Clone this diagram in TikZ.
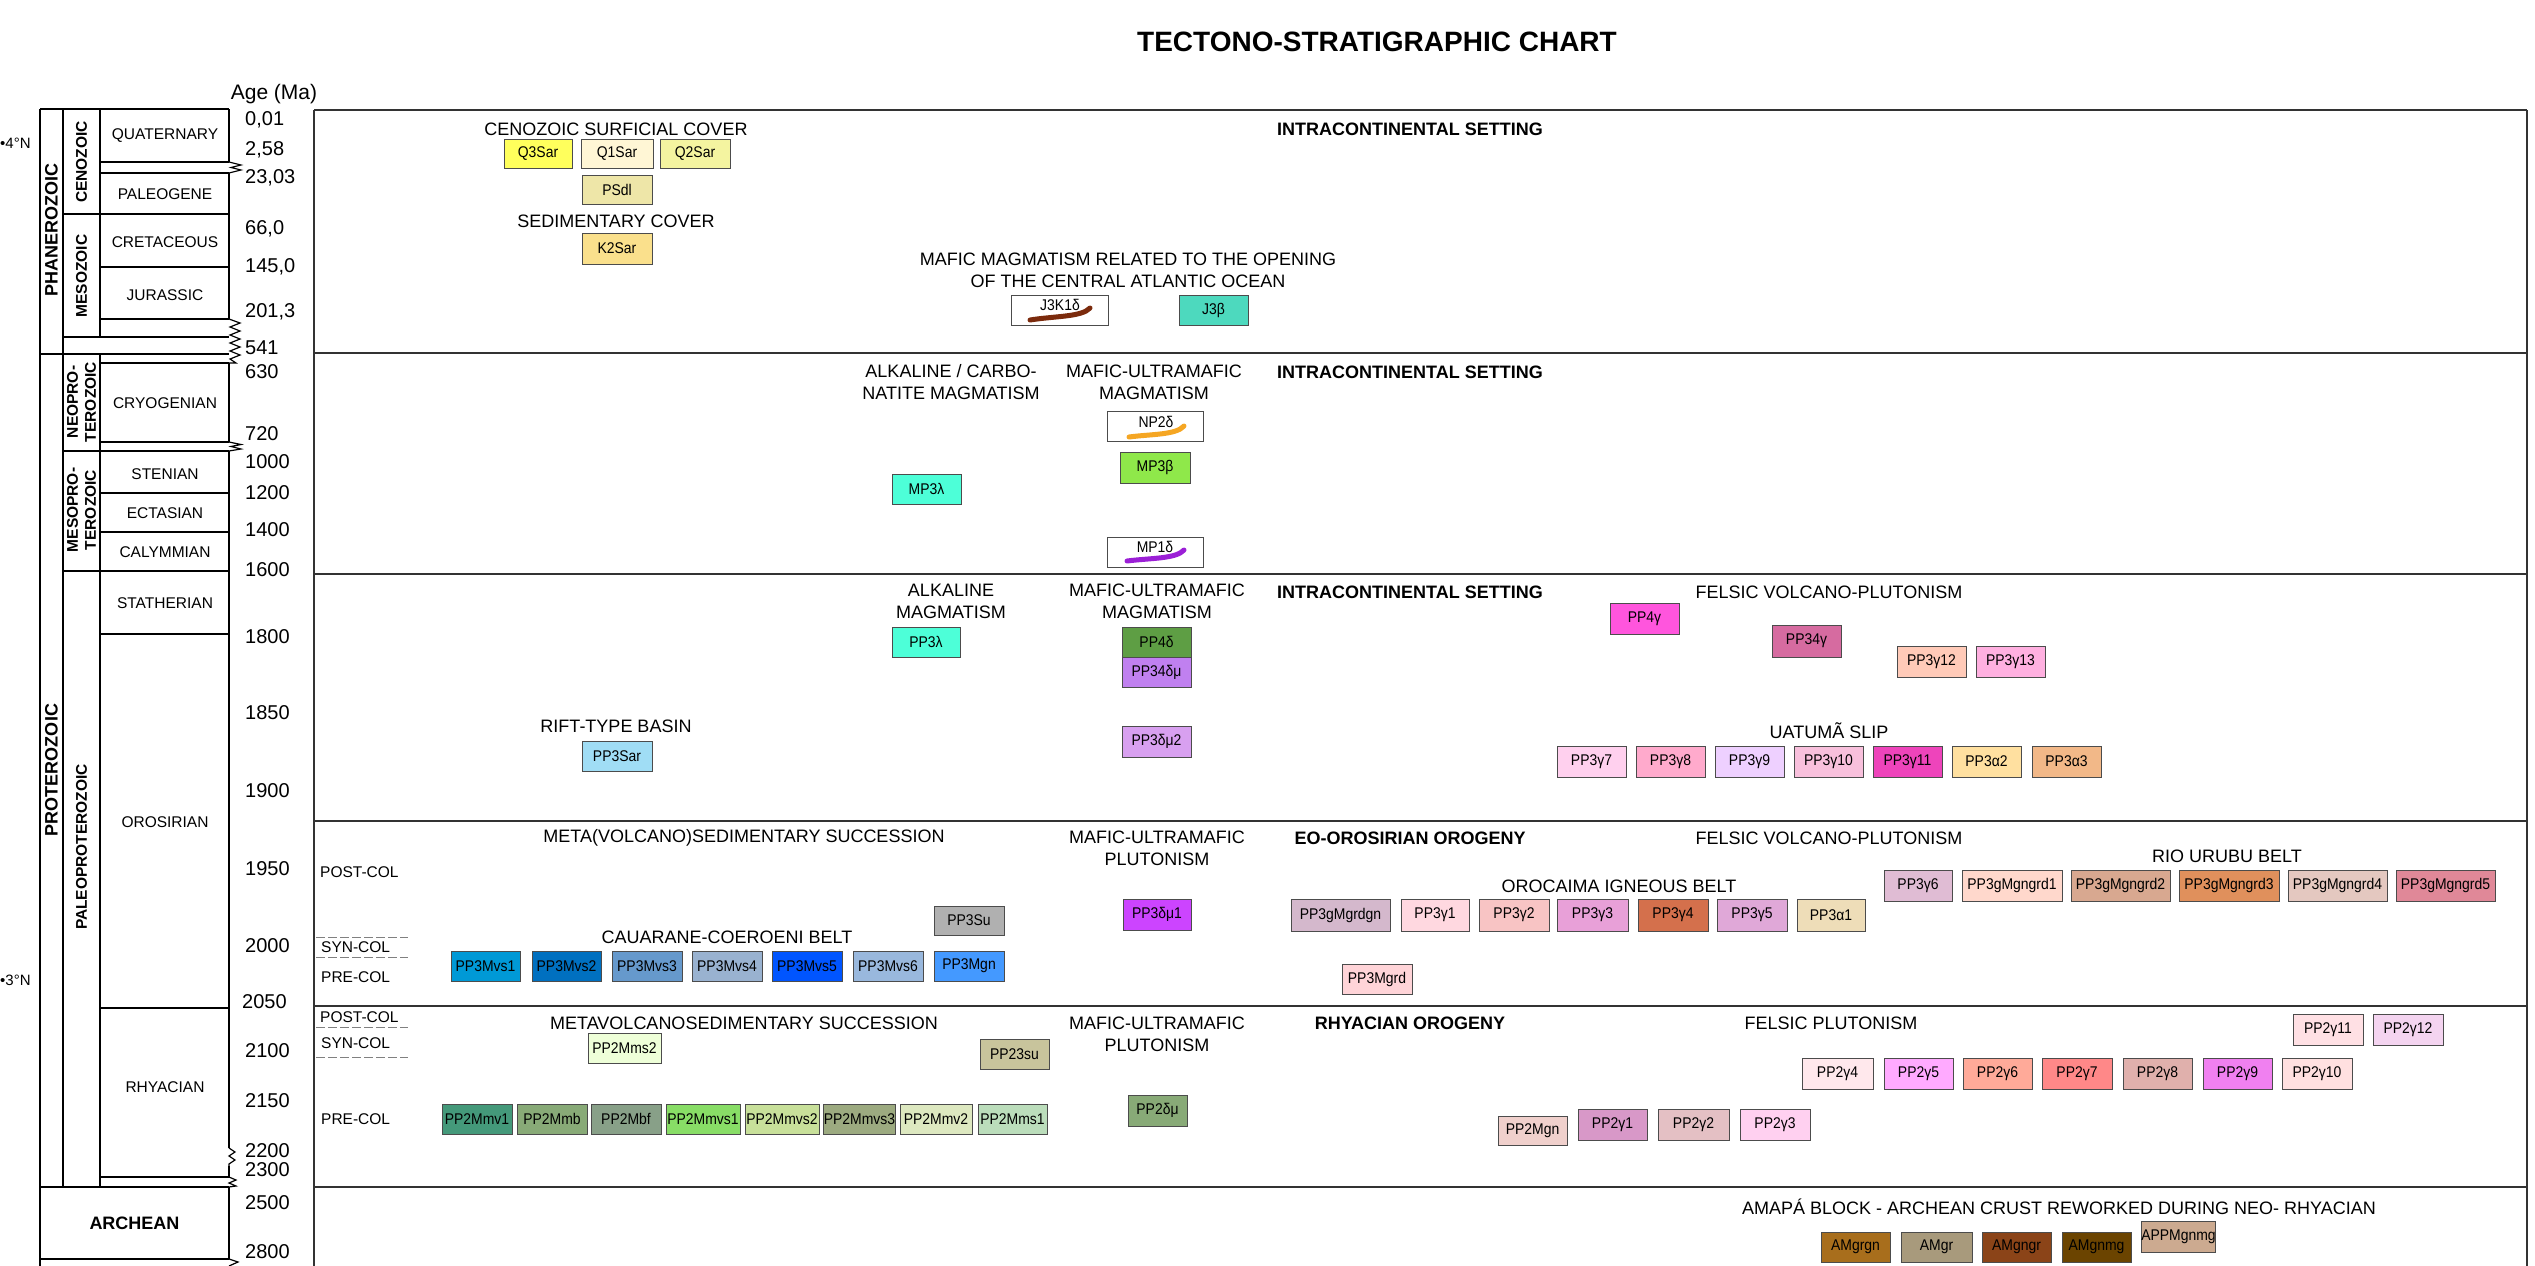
\documentclass[tikz,border=0pt]{standalone}
\usepackage{fontspec}
\setmainfont{Liberation Sans}
\newfontfamily\boxfont[FakeStretch=0.9]{Liberation Sans}
\newcommand\fs[1]{\fontsize{#1}{#1}\selectfont}
\newcommand\fsl[2]{\fontsize{#1}{#2}\selectfont}
\newcommand\ub[7]{%
 \definecolor{c#1}{HTML}{#6}%
 \pgfmathsetmacro\ubcx{(#2+#4)/2}%
 \pgfmathsetmacro\ubcy{(#3+#5)/2}%
 \pgfmathsetmacro\ubw{#4-#2}%
 \pgfmathsetmacro\ubh{#5-#3}%
 \node[unitbox, fill=c#1, minimum width=\ubw pt, minimum height=\ubh pt] (#1) at (\ubcx,\ubcy) {#7};%
}
\definecolor{dykebrown}{HTML}{7B2A0C}
\definecolor{dykeorange}{HTML}{F5A623}
\definecolor{dykepurple}{HTML}{9B1FD6}
\tikzset{
 unitbox/.style={draw=black!70, line width=0.9pt, inner sep=0pt, font=\boxfont\fs{15.5}},
 boxtext/.style={font=\boxfont\fs{15.5}, inner sep=0pt},
 hdr/.style={font=\fsl{18}{22}, inner sep=0pt, align=center},
 hdrb/.style={font=\bfseries\fs{18}, inner sep=0pt},
 age/.style={font=\fs{20}, anchor=west, inner sep=0pt},
 per/.style={font=\fs{15.5}, inner sep=0pt},
 era/.style={font=\bfseries\fs{18}, rotate=90, inner sep=0pt},
 subera/.style={font=\bfseries\fsl{15.5}{18}, rotate=90, inner sep=0pt, align=center},
 col/.style={font=\fs{15.5}, anchor=west, inner sep=0pt},
 tab/.style={line width=1.2pt, black},
 sep/.style={line width=2pt, black!80},
 dashsep/.style={line width=1pt, black!50, dash pattern=on 9pt off 3pt},
 zig/.style={line width=1.2pt, black, line join=miter},
 dyke/.style={line width=5pt, line cap=round}
}
\begin{document}
\begin{tikzpicture}[x=1pt,y=-1pt]
\useasboundingbox[fill=white] (0,0) rectangle (2535,1266);

% title
\node[font=\bfseries\fs{28}, inner sep=0pt] (title) at (1377,42) {TECTONO-STRATIGRAPHIC CHART};
\node[font=\fs{21}, inner sep=0pt] (agema) at (274,94) {Age (Ma)};
\node[font=\fs{15}, anchor=west, inner sep=0pt] (lat4) at (0,143) {•4°N};
\node[font=\fs{15}, anchor=west, inner sep=0pt] (lat3) at (0,980) {•3°N};

% ---------- left table ----------
\draw[tab] (40,109) -- (40,1266);
\draw[tab] (63,109) -- (63,1187);
\draw[tab] (100,109) -- (100,337);
\draw[tab] (100,354) -- (100,1187);
\draw[tab] (229,109) -- (229,162);
\draw[tab] (229,173) -- (229,319);
\draw[tab] (229,363) -- (229,442);
\draw[tab] (229,451) -- (229,1148);
\draw[tab] (229,1166) -- (229,1177);
\draw[tab] (229,1187) -- (229,1259);
\foreach \yy/\xa in {109/40,162/100,173/100,214/63,267/100,319/100,337/63,354/40,363/100,442/100,451/63,493/100,532/100,571/63,634/100,1008/100,1177/100,1187/40,1259/40}
  \draw[tab] (\xa,\yy) -- (229,\yy);
% zigzags
\draw[zig] (229,162) -- (241,165) -- (231,167.5) -- (241,170) -- (229,173);
\draw[zig] (229,319) -- (240,323) -- (230,327) -- (240,331) -- (230,335) -- (240,339) -- (230,343) -- (240,347) -- (230,351) -- (240,355) -- (230,359) -- (236,363) -- (229,363);
\draw[zig] (229,442) -- (241,444.5) -- (231,446.5) -- (241,449) -- (229,451);
\draw[zig] (229,1148) -- (235,1152) -- (229,1156) -- (235,1160) -- (229,1164) -- (229,1166);
\draw[zig] (229,1177) -- (236,1180) -- (229,1183) -- (236,1186) -- (229,1187);
\draw[zig] (229,1259) -- (238,1262) -- (229,1266);

% era / sub-era labels
\node[era] (phan) at (51.5,230) {PHANEROZOIC};
\node[era] (prot) at (51.5,770) {PROTEROZOIC};
\node[subera] (ceno) at (81.5,162) {CENOZOIC};
\node[subera] (meso) at (81.5,276) {MESOZOIC};
\node[subera] (neop) at (81.5,402) {NEOPRO-\\TEROZOIC};
\node[subera] (mesop) at (81.5,510) {MESOPRO-\\TEROZOIC};
\node[subera] (paleop) at (81.5,847) {PALEOPROTEROZOIC};
\node[font=\bfseries\fs{18}, inner sep=0pt] (arch) at (134.5,1223) {ARCHEAN};

% periods
\node[per] (quat) at (165,136) {QUATERNARY};
\node[per] (paleog) at (165,194) {PALEOGENE};
\node[per] (cret) at (165,242) {CRETACEOUS};
\node[per] (jur) at (165,295) {JURASSIC};
\node[per] (cryo) at (165,403) {CRYOGENIAN};
\node[per] (sten) at (165,474) {STENIAN};
\node[per] (ecta) at (165,513) {ECTASIAN};
\node[per] (caly) at (165,552) {CALYMMIAN};
\node[per] (stat) at (165,603) {STATHERIAN};
\node[per] (oros) at (165,822) {OROSIRIAN};
\node[per] (rhya) at (165,1087) {RHYACIAN};

% ages
\foreach \lab/\yy [count=\i] in {0{,}01/120, 2{,}58/150, 23{,}03/178, 66{,}0/229, 145{,}0/267, 201{,}3/312, 541/348, 630/372, 720/434, 1000/462, 1200/493, 1400/530, 1600/570, 1800/637, 1850/713, 1900/791, 1950/869, 2000/946, 2100/1051, 2150/1101, 2200/1151, 2300/1170, 2500/1203, 2800/1252}
  \node[age] (age\i) at (245,\yy) {\lab};
\node[age] (age2050) at (242,1002) {2050};

% ---------- main frame ----------
\draw[sep] (314,110) -- (2527,110);
\draw[sep] (314,110) -- (314,1266);
\draw[sep] (2527,110) -- (2527,1266);
\draw[sep, line width=2.6pt] (314,353) -- (2527,353);
\foreach \yy in {574,821,1006,1187}
  \draw[sep] (314,\yy) -- (2527,\yy);

% collision stage labels
\node[col] (postcol1) at (320,872) {POST-COL};
\node[col] (syncol1) at (321,947) {SYN-COL};
\node[col] (precol1) at (321,977) {PRE-COL};
\node[col] (postcol2) at (320,1017) {POST-COL};
\node[col] (syncol2) at (321,1043) {SYN-COL};
\node[col] (precol2) at (321,1119) {PRE-COL};
\foreach \yy in {937,957,1027,1057}
  \draw[dashsep] (316,\yy) -- (408,\yy);

% ---------- headers ----------
\node[hdr] (h1) at (616,129) {CENOZOIC SURFICIAL COVER};
\node[hdr] (h2) at (616,221) {SEDIMENTARY COVER};
\node[hdrb] (h3) at (1410,129) {INTRACONTINENTAL SETTING};
\node[hdr] (h4) at (1128,270) {MAFIC MAGMATISM RELATED TO THE OPENING\\OF THE CENTRAL ATLANTIC OCEAN};
\node[hdr] (h5) at (951,382) {ALKALINE / CARBO-\\NATITE MAGMATISM};
\node[hdr] (h6) at (1154,382) {MAFIC-ULTRAMAFIC\\MAGMATISM};
\node[hdrb] (h7) at (1410,372) {INTRACONTINENTAL SETTING};
\node[hdr] (h8) at (951,601) {ALKALINE\\MAGMATISM};
\node[hdr] (h9) at (1157,601) {MAFIC-ULTRAMAFIC\\MAGMATISM};
\node[hdrb] (h10) at (1410,592) {INTRACONTINENTAL SETTING};
\node[hdr] (h11) at (1829,592) {FELSIC VOLCANO-PLUTONISM};
\node[hdr] (h12) at (616,726) {RIFT-TYPE BASIN};
\node[hdr] (h13) at (1829,731) {UATUMÃ SLIP};
\node[hdr] (h14) at (744,838) {META(VOLCANO)SEDIMENTARY SUCCESSION};
\node[hdr] (h15) at (1157,848) {MAFIC-ULTRAMAFIC\\PLUTONISM};
\node[hdrb] (h16) at (1410,838) {EO-OROSIRIAN OROGENY};
\node[hdr] (h17) at (1829,838) {FELSIC VOLCANO-PLUTONISM};
\node[hdr] (h18) at (2227,856) {RIO URUBU BELT};
\node[hdr] (h19) at (1619,886) {OROCAIMA IGNEOUS BELT};
\node[hdr] (h20) at (727,937) {CAUARANE-COEROENI BELT};
\node[hdr] (h21) at (744,1023) {METAVOLCANOSEDIMENTARY SUCCESSION};
\node[hdr] (h22) at (1157,1034) {MAFIC-ULTRAMAFIC\\PLUTONISM};
\node[hdrb] (h23) at (1410,1023) {RHYACIAN OROGENY};
\node[hdr] (h24) at (1831,1023) {FELSIC PLUTONISM};
\node[hdr] (h25) at (2059,1207) {AMAPÁ BLOCK - ARCHEAN CRUST REWORKED DURING NEO- RHYACIAN};

% ---------- units: Phanerozoic ----------
\ub{q3sar}{504}{139}{572}{168}{FFFF5C}{Q3Sar}
\ub{q1sar}{581}{139}{653}{168}{FFF6D5}{Q1Sar}
\ub{q2sar}{660}{139}{730}{168}{F4F4A0}{Q2Sar}
\ub{psdl}{582}{175}{652}{204}{EEE6A8}{PSdl}
\ub{ksar}{582}{233}{652}{264}{FAE08C}{K2Sar}
\ub{jk}{1011}{295}{1108}{325}{FFFFFF}{}
\node[boxtext] (jkt) at (1060,305) {J3K1δ};
\draw[dyke, dykebrown] (1030,320) .. controls (1055,316) and (1082,317) .. (1090,308);
\ub{jb}{1179}{295}{1248}{325}{4DD9BE}{J3β}

% ---------- Neo/Mesoproterozoic ----------
\ub{npd}{1107}{411}{1203}{441}{FFFFFF}{}
\node[boxtext] (npdt) at (1156,422) {NP2δ};
\draw[dyke, dykeorange] (1129,437) .. controls (1152,434) and (1176,435) .. (1184,426);
\ub{mpb}{1120}{452}{1190}{483}{8FE84A}{MP3β}
\ub{mpl}{892}{474}{961}{504}{4DFFD8}{MP3λ}
\ub{mpd}{1107}{537}{1203}{567}{FFFFFF}{}
\node[boxtext] (mpdt) at (1155,547) {MP1δ};
\draw[dyke, dykepurple] (1127,561) .. controls (1150,558) and (1176,559) .. (1184,550);

% ---------- Statherian / upper Orosirian ----------
\ub{ppl}{892}{627}{960}{657}{4DFFD8}{PP3λ}
\ub{ppfd}{1122}{627}{1191}{657}{5E9E44}{PP4δ}
\ub{ppdm}{1122}{657}{1191}{687}{C080F0}{PP34δμ}
\ub{ppdmb}{1122}{726}{1191}{757}{D8A0F0}{PP3δμ2}
\ub{ppsar}{582}{741}{652}{771}{A0DDF5}{PP3Sar}
\ub{ppfg}{1610}{603}{1679}{634}{FF55DD}{PP4γ}
\ub{pptfg}{1772}{625}{1841}{657}{D66BA0}{PP34γ}
\ub{ppgl}{1897}{646}{1966}{677}{FFCAB8}{PP3γ12}
\ub{ppgm}{1976}{646}{2045}{677}{FFB0E0}{PP3γ13}
\ub{ppgg}{1557}{746}{1626}{777}{FFD0EE}{PP3γ7}
\ub{ppgh}{1636}{746}{1705}{777}{FFAACC}{PP3γ8}
\ub{ppgi}{1715}{746}{1784}{777}{EED0FF}{PP3γ9}
\ub{ppgj}{1794}{746}{1863}{777}{F8C0DC}{PP3γ10}
\ub{ppgk}{1873}{746}{1942}{777}{EE44BB}{PP3γ11}
\ub{ppab}{1952}{746}{2021}{777}{FFE0A0}{PP3α2}
\ub{ppac}{2032}{746}{2101}{777}{F2B888}{PP3α3}

% ---------- lower Orosirian ----------
\ub{ppsu}{934}{906}{1004}{935}{B0B0B0}{PP3Su}
\ub{mvsa}{451}{951}{520}{981}{0099D6}{PP3Mvs1}
\ub{mvsb}{532}{951}{601}{981}{0070C0}{PP3Mvs2}
\ub{mvsc}{612}{951}{682}{981}{6699CC}{PP3Mvs3}
\ub{mvsd}{692}{951}{762}{981}{99B2D0}{PP3Mvs4}
\ub{mvse}{772}{951}{842}{981}{0055FF}{PP3Mvs5}
\ub{mvsf}{853}{951}{923}{981}{99B8DD}{PP3Mvs6}
\ub{ppmgn}{934}{951}{1004}{981}{4499FF}{PP3Mgn}
\ub{ppdma}{1123}{899}{1191}{930}{CC44FF}{PP3δμ1}
\ub{gmgrdgn}{1291}{899}{1390}{931}{D4B8CC}{PP3gMgrdgn}
\ub{ogga}{1401}{899}{1469}{931}{FFD8E0}{PP3γ1}
\ub{oggb}{1479}{899}{1549}{931}{F8C4C4}{PP3γ2}
\ub{oggc}{1557}{899}{1628}{931}{E8A0D8}{PP3γ3}
\ub{oggd}{1638}{899}{1708}{931}{D4704C}{PP3γ4}
\ub{ogge}{1717}{899}{1787}{931}{E0A8D8}{PP3γ5}
\ub{ogaa}{1797}{899}{1865}{931}{EEDDB8}{PP3α1}
\ub{ppmgrd}{1342}{964}{1412}{994}{FFD4D8}{PP3Mgrd}
\ub{ruf}{1884}{870}{1952}{901}{E0BCD4}{PP3γ6}
\ub{rua}{1962}{870}{2062}{901}{FFD8CC}{PP3gMgngrd1}
\ub{rub}{2071}{870}{2170}{901}{D8A890}{PP3gMgngrd2}
\ub{ruc}{2179}{870}{2279}{901}{E0905C}{PP3gMgngrd3}
\ub{rud}{2288}{870}{2387}{901}{E4C8C0}{PP3gMgngrd4}
\ub{rue}{2396}{870}{2495}{901}{E08898}{PP3gMgngrd5}

% ---------- Rhyacian ----------
\ub{mmsb}{588}{1033}{661}{1063}{EEFFD8}{PP2Mms2}
\ub{ppsub}{980}{1039}{1049}{1069}{C8C49C}{PP23su}
\ub{mmva}{442}{1104}{512}{1134}{44997A}{PP2Mmv1}
\ub{mmb}{517}{1104}{587}{1134}{88AA77}{PP2Mmb}
\ub{mbf}{591}{1104}{661}{1134}{88A088}{PP2Mbf}
\ub{mmvsa}{666}{1104}{740}{1134}{88DD66}{PP2Mmvs1}
\ub{mmvsb}{745}{1104}{819}{1134}{C8E09A}{PP2Mmvs2}
\ub{mmvsc}{824}{1104}{895}{1134}{9CAA80}{PP2Mmvs3}
\ub{mmvb}{900}{1104}{972}{1134}{DDE8C0}{PP2Mmv2}
\ub{mmsa}{978}{1104}{1047}{1134}{BBDDBB}{PP2Mms1}
\ub{pptdm}{1128}{1095}{1187}{1126}{88AA77}{PP2δμ}
\ub{rgk}{2293}{1014}{2363}{1045}{FFE0E4}{PP2γ11}
\ub{rgl}{2373}{1014}{2443}{1045}{F4D4F0}{PP2γ12}
\ub{rgd}{1802}{1058}{1873}{1089}{FFE8EC}{PP2γ4}
\ub{rge}{1884}{1058}{1953}{1089}{FFAAFF}{PP2γ5}
\ub{rgf}{1963}{1058}{2032}{1089}{FFAA99}{PP2γ6}
\ub{rgg}{2042}{1058}{2112}{1089}{FF8888}{PP2γ7}
\ub{rgh}{2123}{1058}{2192}{1089}{E0B0AC}{PP2γ8}
\ub{rgi}{2203}{1058}{2272}{1089}{F080F0}{PP2γ9}
\ub{rgj}{2282}{1058}{2352}{1089}{FFE0E0}{PP2γ10}
\ub{ptmgn}{1498}{1116}{1567}{1145}{F0D0CC}{PP2Mgn}
\ub{rga}{1578}{1109}{1647}{1140}{D898C8}{PP2γ1}
\ub{rgb}{1658}{1109}{1729}{1140}{E4C0C4}{PP2γ2}
\ub{rgc}{1740}{1109}{1810}{1140}{FFD0F0}{PP2γ3}

% ---------- Archean ----------
\ub{amgrgn}{1821}{1232}{1890}{1262}{A86E1C}{AMgrgn}
\ub{amgr}{1901}{1232}{1972}{1262}{A89A7C}{AMgr}
\ub{amgngr}{1982}{1232}{2051}{1262}{8B4418}{AMgngr}
\ub{amgnmg}{2062}{1232}{2131}{1262}{6B4400}{AMgnmg}
\ub{appmgnmg}{2144}{1221}{2213}{1252}{CCAA90}{APPMgnmg}

\end{tikzpicture}
\end{document}
